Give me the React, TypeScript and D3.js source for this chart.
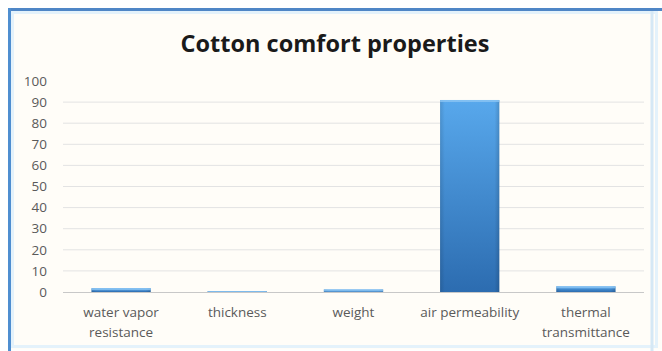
import React from "react";
import * as d3 from "d3";

const categories = [
  ["water vapor", "resistance"],
  ["thickness"],
  ["weight"],
  ["air permeability"],
  ["thermal", "transmittance"],
];
const values = [1.8, 0.3, 1.2, 91, 2.7];
const yTicks = [0, 10, 20, 30, 40, 50, 60, 70, 80, 90, 100];
const title = "Cotton comfort properties";

const W = 662;
const H = 351;
const plot = { left: 63, right: 644, top: 81, bottom: 292 };
const font = "'Open Sans', 'Liberation Sans', sans-serif";

export default function App() {
  const x = d3
    .scaleBand<number>()
    .domain(d3.range(values.length))
    .range([plot.left, plot.right])
    .paddingInner(0.49)
    .paddingOuter(0.245);
  const y = d3.scaleLinear().domain([0, 100]).range([plot.bottom, plot.top]);

  return (
    <svg
      width={W}
      height={H}
      style={{ position: "absolute", left: 0, top: 0 }}
    >
      <defs>
        <linearGradient id="barFill" x1="0" y1="0" x2="0" y2="1">
          <stop offset="0%" stopColor="#58a8ec" />
          <stop offset="100%" stopColor="#2c6cb0" />
        </linearGradient>
        <linearGradient id="barSide" x1="0" y1="0" x2="1" y2="0">
          <stop offset="0%" stopColor="#000" stopOpacity={0.12} />
          <stop offset="8%" stopColor="#000" stopOpacity={0} />
          <stop offset="92%" stopColor="#000" stopOpacity={0} />
          <stop offset="100%" stopColor="#000" stopOpacity={0.15} />
        </linearGradient>
      </defs>

      {/* chart frame */}
      <rect x={0} y={0} width={W} height={H} fill="#ffffff" />
      <rect x={9.5} y={9.5} width={652} height={340} fill="#fffdf8" />
      <rect
        x={12.5}
        y={12.5}
        width={644}
        height={334}
        fill="none"
        stroke="#e4f2fb"
        strokeWidth={3}
      />
      <line x1={8} x2={662} y1={9.5} y2={9.5} stroke="#4f86c6" strokeWidth={3} />
      <line x1={9.5} x2={9.5} y1={8} y2={351} stroke="#4f8ed0" strokeWidth={3} />
      <line x1={652} x2={652} y1={11} y2={351} stroke="#d5e8f5" strokeWidth={3} />

      <text
        x={335}
        y={52}
        textAnchor="middle"
        fontFamily={font}
        fontWeight="bold"
        fontSize={23.5}
        fill="#1a1a1a"
      >
        {title}
      </text>

      {/* gridlines */}
      {yTicks
        .filter((t) => t > 0 && t < 100)
        .map((t) => (
          <line
            key={t}
            x1={plot.left}
            x2={plot.right}
            y1={y(t)}
            y2={y(t)}
            stroke="#e3e3e3"
            strokeWidth={1}
          />
        ))}

      {/* y tick labels */}
      {yTicks.map((t) => (
        <text
          key={t}
          x={47}
          y={y(t)}
          dy="0.35em"
          textAnchor="end"
          fontFamily={font}
          fontSize={13.5}
          fill="#5a5a5a"
        >
          {t}
        </text>
      ))}

      {/* bars */}
      {values.map((v, i) => {
        const bx = x(i)!;
        const bw = x.bandwidth();
        const top = y(v);
        const h = Math.max(plot.bottom - top, 1);
        return (
          <g key={i}>
            <rect x={bx} y={plot.bottom - h} width={bw} height={h} fill="url(#barFill)" />
            <rect x={bx} y={plot.bottom - h} width={bw} height={h} fill="url(#barSide)" />
            <rect
              x={bx}
              y={plot.bottom - h}
              width={bw}
              height={Math.min(2, h)}
              fill="#8cc6f4"
              opacity={0.8}
            />
          </g>
        );
      })}

      {/* baseline */}
      <line
        x1={plot.left}
        x2={plot.right}
        y1={plot.bottom + 0.5}
        y2={plot.bottom + 0.5}
        stroke="#c8c8c8"
        strokeWidth={1}
      />

      {/* category labels */}
      {categories.map((lines, i) => (
        <text
          key={i}
          x={x(i)! + x.bandwidth() / 2}
          textAnchor="middle"
          fontFamily={font}
          fontSize={13.5}
          fill="#5a5a5a"
        >
          {lines.map((l, j) => (
            <tspan key={j} x={x(i)! + x.bandwidth() / 2} y={317 + j * 20}>
              {l}
            </tspan>
          ))}
        </text>
      ))}
    </svg>
  );
}
